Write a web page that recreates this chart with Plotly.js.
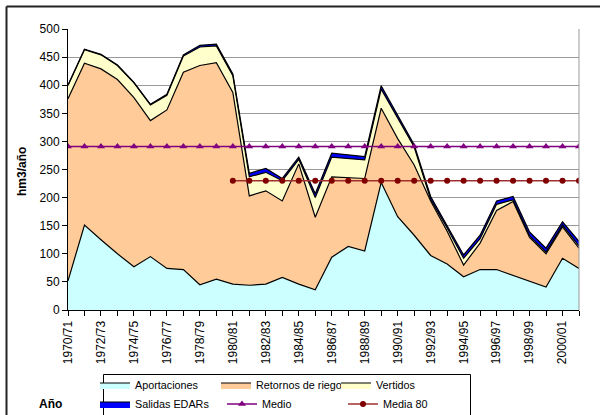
<!DOCTYPE html>
<html><head><meta charset="utf-8">
<script src="https://cdn.plot.ly/plotly-3.0.1.min.js"></script>
<style>html,body{margin:0;padding:0;background:#fff;} #chart{width:600px;height:415px;}</style>
</head><body><div id="chart"></div>
<script>
const years = ['1970/71','1971/72','1972/73','1973/74','1974/75','1975/76','1976/77','1977/78','1978/79','1979/80',
  '1980/81','1981/82','1982/83','1983/84','1984/85','1985/86','1986/87','1987/88','1988/89','1989/90',
  '1990/91','1991/92','1992/93','1993/94','1994/95','1995/96','1996/97','1997/98','1998/99','1999/00',
  '2000/01','2001/02'];
const aportaciones = [52,151,125,100,77,95,74,72,45,55,46,44,46,58,46,36,94,113,105,227,166,133,97,82,59,72,72,62,52,41,92,74];
const retornos     = [324,288,304,310,301,242,282,351,390,385,341,159,166,136,214,129,143,123,129,132,139,125,97,58,21,47,105,131,77,59,56,36];
const vertidos     = [24,24,25,25,26,28,26,29,33,30,30,34,33,36,8,35,35,33,33,34,36,32,3,6,12,8,11,3,3,3,3,4];
const salidasEDARs = [0,1,1,1,1,1,2,2,3,3,3,6,7,4,4,7,7,7,6,6,6,4,5,5,6,6,6,6,7,7,6,8];
const medio   = [291,291,291,291,291,291,291,291,291,291,291,291,291,291,291,291,291,291,291,291,291,291,291,291,291,291,291,291,291,291,291,291];
const media80 = [null,null,null,null,null,null,null,null,null,null,230,230,230,230,230,230,230,230,230,230,230,230,230,230,230,230,230,230,230,230,230,230];
const yTicks = [0,50,100,150,200,250,300,350,400,450,500];

const FONT = 'Liberation Sans, Arial, sans-serif';
const xIdx = years.map((_, i) => i);
const tickIdx = xIdx.filter(i => i % 2 === 0);

// pixel -> paper helpers (plot area: left 68, right 579, top 29, bottom 310)
const L = 68, W = 511, T = 29, H = 281;
const px = p => (p - L) / W;
const py = p => (T + H - p) / H;

function area(name, y, fill, leg) {
  return {type:'scatter', mode:'lines', name, x:xIdx, y, stackgroup:'one',
    fillcolor:fill, line:{color:'#000', width:1.2}, legend:leg, hoverinfo:'skip'};
}
const data = [
  area('Aportaciones', aportaciones, '#CCFFFF', 'legend'),
  area('Retornos de riego', retornos, '#FFCC99', 'legend2'),
  area('Vertidos', vertidos, '#FFFFCC', 'legend3'),
  area('Salidas EDARs', salidasEDARs, '#0000FF', 'legend4'),
  {type:'scatter', mode:'lines+markers', name:'Medio', x:xIdx, y:medio,
    line:{color:'#800080', width:1.5}, marker:{symbol:'triangle-up', size:7, color:'#800080'}, legend:'legend5'},
  {type:'scatter', mode:'lines+markers', name:'Media 80', x:xIdx, y:media80,
    line:{color:'#A03030', width:1.5}, marker:{symbol:'circle', size:6, color:'#800000'}, legend:'legend6'}
];

function leg(xp, yp) {
  return {x:px(xp), y:py(yp), xanchor:'left', yanchor:'middle', orientation:'h',
    bgcolor:'rgba(0,0,0,0)', borderwidth:0, font:{family:FONT, size:10.8, color:'#000'},
    itemwidth:30};
}

const layout = {
  width:600, height:415,
  margin:{l:L, r:600-L-W, t:T, b:415-T-H, autoexpand:false},
  paper_bgcolor:'#fff', plot_bgcolor:'#fff',
  font:{family:FONT, size:12, color:'#000'},
  showlegend:true,
  xaxis:{range:[0,31], tickmode:'array', tickvals:tickIdx, ticktext:tickIdx.map(i => years[i]),
    tickangle:-90, ticks:'outside', ticklen:5, tickcolor:'#000', showline:true, linecolor:'#000', linewidth:1,
    showgrid:false, zeroline:false, tickfont:{family:FONT, size:12},
    minor:{dtick:1, tick0:0, ticks:'outside', ticklen:5, tickcolor:'#000', showgrid:false}},
  yaxis:{range:[0,500], tickmode:'array', tickvals:yTicks, ticks:'outside', ticklen:5, tickcolor:'#000',
    showline:true, linecolor:'#000', linewidth:1, showgrid:true, gridcolor:'#9a9a9a', gridwidth:1,
    zeroline:false, tickfont:{family:FONT, size:12}},
  legend: leg(95, 385), legend2: leg(216, 385), legend3: leg(336, 385),
  legend4: leg(95, 404), legend5: leg(222, 404), legend6: leg(343, 404),
  shapes:[
    {type:'line', xref:'paper', yref:'paper', x0:1, x1:1, y0:0, y1:1, line:{color:'#9a9a9a', width:1}},
    {type:'line', xref:'paper', yref:'paper', x0:px(6.5), x1:px(6.5), y0:py(6.5), y1:py(430), line:{color:'#222', width:2}},
    {type:'line', xref:'paper', yref:'paper', x0:px(6.5), x1:px(610), y0:py(6.5), y1:py(6.5), line:{color:'#222', width:2}},
    {type:'rect', xref:'paper', yref:'paper', x0:px(103.5), x1:px(470.5), y0:py(430), y1:py(374.5), line:{color:'#000', width:1}, fillcolor:'rgba(0,0,0,0)'}
  ],
  annotations:[
    {text:'<b>hm3/año</b>', xref:'paper', yref:'paper', x:px(22), y:py(172), textangle:-90,
      showarrow:false, xanchor:'center', yanchor:'middle', font:{family:FONT, size:12}},
    {text:'<b>Año</b>', xref:'paper', yref:'paper', x:px(37), y:py(404),
      showarrow:false, xanchor:'left', yanchor:'middle', font:{family:FONT, size:12}}
  ]
};
Plotly.newPlot('chart', data, layout, {staticPlot:true, displayModeBar:false});
</script></body></html>
